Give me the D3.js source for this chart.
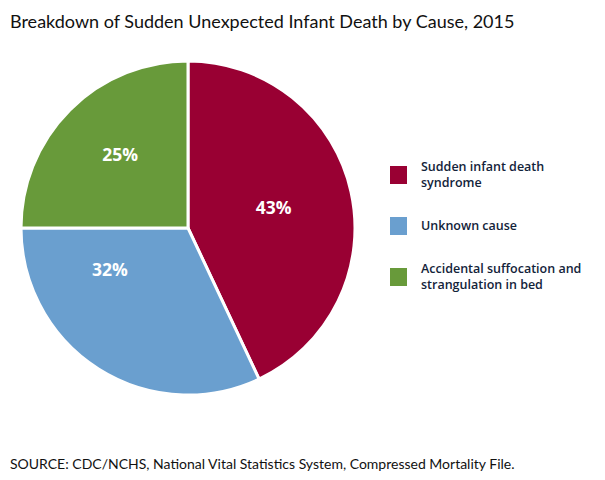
<!DOCTYPE html>
<html>
<head>
<meta charset="utf-8">
<script src="https://cdn.jsdelivr.net/npm/d3@7"></script>
<style>
  body { margin: 0; background: #fff; }
</style>
</head>
<body>
<div id="chart"></div>
<script>
const categories = ["Sudden infant death syndrome", "Unknown cause", "Accidental suffocation and strangulation in bed"];
const legendLines = [["Sudden infant death", "syndrome"], ["Unknown cause"], ["Accidental suffocation and", "strangulation in bed"]];
const shares = [43, 32, 25];
const colors = ["#990033", "#6a9fcf", "#689a3a"];

const width = 605, height = 480;
const cx = 188, cy = 228, radius = 167;

const svg = d3.select("#chart")
  .append("svg")
    .attr("width", width)
    .attr("height", height);

svg.append("text")
    .attr("x", 10)
    .attr("y", 28)
    .style("font-family", "Lato")
    .style("font-size", "18px")
    .style("fill", "#111")
    .text("Breakdown of Sudden Unexpected Infant Death by Cause, 2015");

const data = categories.map((c, i) => ({cat: c, value: shares[i], color: colors[i], lines: legendLines[i]}));

const pie = d3.pie().value(d => d.value).sort(null);
const arc = d3.arc().innerRadius(0).outerRadius(radius);
const labelArc = d3.arc().innerRadius(radius * 0.55).outerRadius(radius * 0.55);

// small hand nudges so labels sit like the original
const nudge = [[-4, 0], [-29, -36], [-3, -8]];

const g = svg.append("g")
    .attr("transform", `translate(${cx},${cy})`);

const arcs = pie(data);

g.selectAll("path")
  .data(arcs)
  .join("path")
    .attr("d", arc)
    .attr("fill", d => d.data.color)
    .attr("stroke", "#fff")
    .attr("stroke-width", 3)
    .attr("stroke-linejoin", "miter");

g.selectAll("text.pct")
  .data(arcs)
  .join("text")
    .attr("class", "pct")
    .attr("transform", (d, i) => {
      const [x, y] = labelArc.centroid(d);
      return `translate(${x + nudge[i][0]},${y + nudge[i][1]})`;
    })
    .attr("text-anchor", "middle")
    .attr("dy", "0.35em")
    .style("font-family", "Open Sans")
    .style("font-weight", "bold")
    .style("font-size", "17.5px")
    .style("fill", "#fff")
    .text(d => d.data.value + "%");

const legendY = d3.scalePoint()
  .domain(categories)
  .range([175, 277]);

const legend = svg.append("g")
  .selectAll("g")
  .data(data)
  .join("g")
    .attr("transform", d => `translate(390,${legendY(d.cat)})`);

legend.append("rect")
    .attr("x", 0)
    .attr("y", -9)
    .attr("width", 17)
    .attr("height", 18)
    .attr("fill", d => d.color);

legend.append("text")
    .attr("x", 31)
    .attr("y", d => d.lines.length > 1 ? -8 : 0)
    .attr("dy", "0.35em")
    .style("font-family", "Open Sans")
    .style("font-weight", "600")
    .style("font-size", "12.5px")
    .style("fill", "#13233a")
  .selectAll("tspan")
  .data(d => d.lines)
  .join("tspan")
    .attr("x", 31)
    .attr("dy", (l, i) => i === 0 ? "0.35em" : "16")
    .text(l => l);

svg.append("text")
    .attr("x", 10)
    .attr("y", 469)
    .style("font-family", "Lato")
    .style("font-size", "14px")
    .style("fill", "#111")
    .text("SOURCE: CDC/NCHS, National Vital Statistics System, Compressed Mortality File.");
</script>
</body>
</html>
